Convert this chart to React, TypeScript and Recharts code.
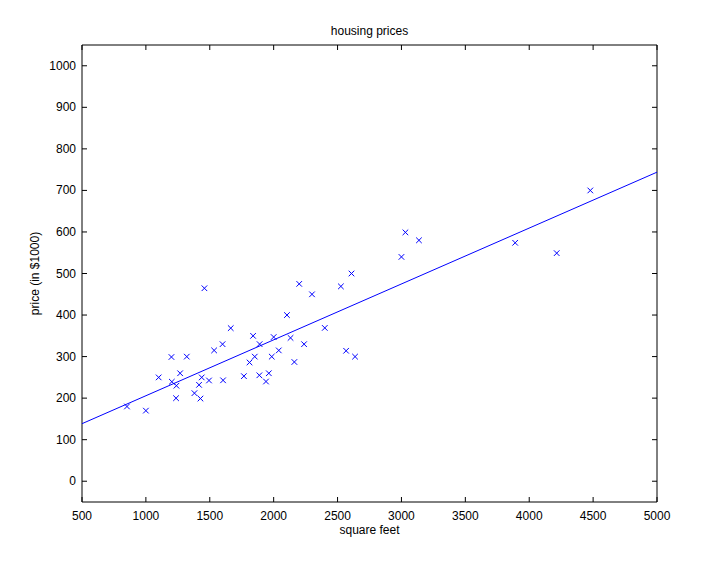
import React from 'react';
import { ScatterChart, Scatter, XAxis, YAxis } from 'recharts';

const sqft = [2104, 1600, 2400, 1416, 3000, 1985, 1534, 1427, 1380, 1494, 1940, 2000, 1890, 4478, 1268, 2300, 1320, 1236, 2609, 3031, 1767, 1888, 1604, 1962, 3890, 1100, 1458, 2526, 2200, 2637, 1839, 1000, 2040, 3137, 1811, 1437, 1239, 2132, 4215, 2162, 1664, 2238, 2567, 1200, 852, 1852, 1203];
const price = [399.9, 329.9, 369, 232, 539.9, 299.9, 314.9, 199, 212, 242.5, 240, 347, 330, 699.9, 259.9, 449.9, 299.9, 199.9, 500, 599, 252.9, 255, 242.9, 259.9, 573.9, 249.9, 464.5, 469, 475, 299.9, 349.9, 169.9, 314.9, 579.9, 285.9, 249.9, 229.9, 345, 549, 287, 368.5, 329.9, 314, 299, 179.9, 299.9, 239.5];
const fitX = [500, 5000];
const fitY = [138.5, 743.9];
const xTicks = [500, 1000, 1500, 2000, 2500, 3000, 3500, 4000, 4500, 5000];
const yTicks = [0, 100, 200, 300, 400, 500, 600, 700, 800, 900, 1000];

const points = sqft.map((s, i) => ({ x: s, y: price[i] }));
const fitData = fitX.map((s, i) => ({ x: s, y: fitY[i] }));

const FONT = '"Liberation Sans", Arial, sans-serif';
const BLUE = '#0000ff';
const X_DOMAIN: [number, number] = [500, 5000];
const Y_DOMAIN: [number, number] = [-50, 1050];

const BottomLabel = (p: any) => (
  <text x={p.x} y={p.y + 18} textAnchor="middle" fontSize={12} fontFamily={FONT} fill="#000">
    {p.payload.value}
  </text>
);
const LeftLabel = (p: any) => (
  <text x={p.x - 6} y={p.y + 4} textAnchor="end" fontSize={12} fontFamily={FONT} fill="#000">
    {p.payload.value}
  </text>
);
const blank = () => '';

const XMark = (p: any) => {
  const { cx, cy } = p;
  if (cx == null || cy == null) return <g />;
  const r = 2.8;
  return (
    <g stroke={BLUE} strokeWidth={1}>
      <line x1={cx - r} y1={cy - r} x2={cx + r} y2={cy + r} />
      <line x1={cx - r} y1={cy + r} x2={cx + r} y2={cy - r} />
    </g>
  );
};

export default function App() {
  return (
    <div style={{ position: 'absolute', left: 0, top: 0, width: 711, height: 565, background: '#fff' }}>
      <div
        style={{
          position: 'absolute',
          left: 82,
          width: 575,
          top: 24,
          textAlign: 'center',
          fontFamily: FONT,
          fontSize: 12,
          lineHeight: '14px',
          color: '#000',
        }}
      >
        housing prices
      </div>
      <ScatterChart width={711} height={565} margin={{ top: 45, right: 54, bottom: 0, left: 22 }}>
        {/* bottom axis: labels + axis line */}
        <XAxis
          xAxisId="x"
          type="number"
          dataKey="x"
          domain={X_DOMAIN}
          allowDataOverflow
          ticks={xTicks}
          interval={0}
          height={63}
          tickSize={0}
          tickMargin={0}
          tickLine={false}
          axisLine={{ stroke: '#000' }}
          tick={BottomLabel}
          label={{ value: 'square feet', position: 'insideTop', offset: 23, fontSize: 12, fontFamily: FONT, fill: '#000' }}
        />
        {/* bottom inward tick marks */}
        <XAxis
          xAxisId="xb"
          orientation="bottom"
          mirror
          type="number"
          dataKey="x"
          domain={X_DOMAIN}
          allowDataOverflow
          ticks={xTicks}
          interval={0}
          height={30}
          tickSize={5}
          tickLine={{ stroke: '#000' }}
          axisLine={false}
          tickFormatter={blank}
        />
        {/* top box edge with inward ticks */}
        <XAxis
          xAxisId="xt"
          orientation="top"
          mirror
          type="number"
          dataKey="x"
          domain={X_DOMAIN}
          allowDataOverflow
          ticks={xTicks}
          interval={0}
          height={30}
          tickSize={5}
          tickLine={{ stroke: '#000' }}
          axisLine={{ stroke: '#000' }}
          tickFormatter={blank}
        />
        {/* left axis: labels + axis line */}
        <YAxis
          yAxisId="y"
          type="number"
          dataKey="y"
          domain={Y_DOMAIN}
          allowDataOverflow
          ticks={yTicks}
          interval={0}
          width={60}
          tickSize={0}
          tickMargin={0}
          tickLine={false}
          axisLine={{ stroke: '#000' }}
          tick={LeftLabel}
          label={{ value: 'price (in $1000)', angle: -90, position: 'insideLeft', offset: 13, fontSize: 12, fontFamily: FONT, fill: '#000', style: { textAnchor: 'middle' } }}
        />
        {/* left inward tick marks */}
        <YAxis
          yAxisId="yl"
          orientation="left"
          mirror
          type="number"
          dataKey="y"
          domain={Y_DOMAIN}
          allowDataOverflow
          ticks={yTicks}
          interval={0}
          width={30}
          tickSize={5}
          tickLine={{ stroke: '#000' }}
          axisLine={false}
          tickFormatter={blank}
        />
        {/* right box edge with inward ticks */}
        <YAxis
          yAxisId="yr"
          orientation="right"
          mirror
          type="number"
          dataKey="y"
          domain={Y_DOMAIN}
          allowDataOverflow
          ticks={yTicks}
          interval={0}
          width={30}
          tickSize={5}
          tickLine={{ stroke: '#000' }}
          axisLine={{ stroke: '#000' }}
          tickFormatter={blank}
        />
        <Scatter
          xAxisId="x"
          yAxisId="y"
          data={fitData}
          line={{ stroke: BLUE, strokeWidth: 1 }}
          shape={() => <g />}
          isAnimationActive={false}
        />
        <Scatter
          xAxisId="x"
          yAxisId="y"
          data={points}
          shape={XMark}
          isAnimationActive={false}
        />
      </ScatterChart>
    </div>
  );
}
